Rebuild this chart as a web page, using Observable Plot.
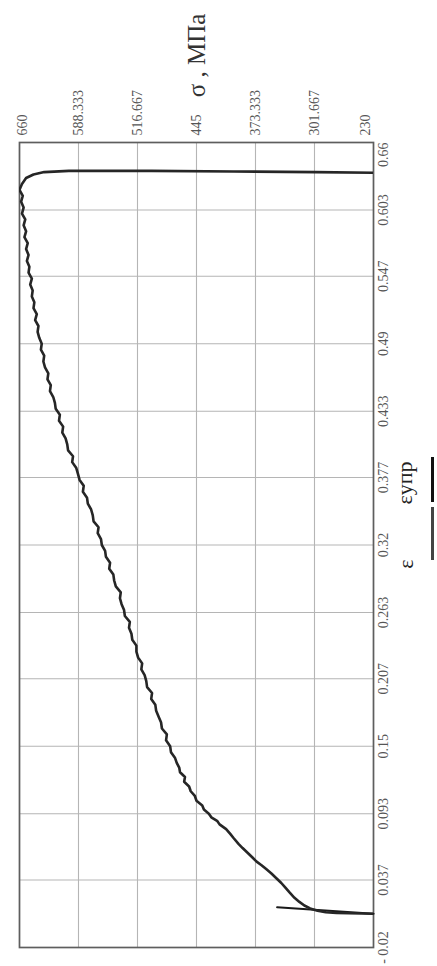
<!DOCTYPE html>
<html>
<head>
<meta charset="utf-8">
<script src="https://cdn.jsdelivr.net/npm/d3@7"></script>
<script src="https://cdn.jsdelivr.net/npm/@observablehq/plot@0.6"></script>
<style>
  body { margin: 0; background: #fff; }
  #wrap { position: relative; width: 437px; height: 966px; font-family: "Liberation Serif", "DejaVu Serif", serif; }
  .lg { position: absolute; transform: translate(-50%, -50%) rotate(-90deg); white-space: nowrap; color: #222; font-size: 22px; line-height: 1; }
  .bar { position: absolute; width: 3px; }
</style>
</head>
<body>
<div id="wrap"></div>
<script>
// Axis ticks
const sigmaTicks = [660, 588.333, 516.667, 445, 373.333, 301.667, 230];
const sigmaLabels = ["660", "588.333", "516.667", "445", "373.333", "301.667", "230"];
const epsTicks = [-0.02, 0.037, 0.093, 0.15, 0.207, 0.263, 0.32, 0.377, 0.433, 0.49, 0.547, 0.603, 0.66];
const epsLabels = ["- 0.02", "0.037", "0.093", "0.15", "0.207", "0.263", "0.32", "0.377", "0.433", "0.49", "0.547", "0.603", "0.66"];
const titleText = "σ , МПа";
const legendNames = ["ε", "εупр"];

// Main curve ε (strain) and σ (stress, MPa)
const curveEps = [
  0.0085, 0.0087, 0.0089, 0.0092, 0.0098, 0.0110, 0.0130, 0.0155, 0.0185, 0.0220,
  0.0265, 0.0305, 0.0345, 0.0385, 0.0425, 0.0460, 0.0495, 0.0525, 0.0560, 0.0600,
  0.0640, 0.0675, 0.0725, 0.0760, 0.0800, 0.0840, 0.0870, 0.0900, 0.0930, 0.0965,
  0.1000, 0.1040, 0.1080, 0.1120, 0.1160, 0.1200, 0.1240, 0.1280, 0.1320, 0.1360,
  0.1400, 0.1450, 0.1500, 0.1550, 0.1600, 0.1650, 0.1700, 0.1750, 0.1800, 0.1850,
  0.1900, 0.1950, 0.2000, 0.2050, 0.2100, 0.2150, 0.2200, 0.2250, 0.2300, 0.2350,
  0.2400, 0.2450, 0.2500, 0.2550, 0.2600, 0.2650, 0.2700, 0.2750, 0.2800, 0.2850,
  0.2900, 0.2950, 0.3000, 0.3050, 0.3100, 0.3150, 0.3200, 0.3250, 0.3300, 0.3350,
  0.3400, 0.3450, 0.3500, 0.3550, 0.3600, 0.3650, 0.3700, 0.3750, 0.3800, 0.3850,
  0.3900, 0.3950, 0.4000, 0.4050, 0.4100, 0.4150, 0.4200, 0.4250, 0.4300, 0.4350,
  0.4400, 0.4450, 0.4500, 0.4550, 0.4600, 0.4650, 0.4700, 0.4750, 0.4800, 0.4850,
  0.4900, 0.4950, 0.5000, 0.5050, 0.5100, 0.5150, 0.5200, 0.5250, 0.5300, 0.5350,
  0.5400, 0.5450, 0.5500, 0.5550, 0.5600, 0.5650, 0.5700, 0.5750, 0.5800, 0.5850,
  0.5900, 0.5950, 0.6000, 0.6050, 0.6100, 0.6150, 0.6200, 0.6250, 0.6300, 0.6330,
  0.6350, 0.6360, 0.6360, 0.6355, 0.6350, 0.6345
];
const curveSigma = [
  230, 245, 260, 275, 288, 298, 307, 314, 320, 326,
  332, 337, 342, 348, 354, 360, 366, 372, 377, 383,
  389, 394, 400, 404, 409, 417, 420, 427, 430, 436,
  438, 445, 447, 452, 454, 460, 459, 465, 466, 469,
  471, 476, 477, 482, 481, 487, 488, 491, 494, 495,
  500, 499, 505, 506, 508, 512, 511, 516, 518, 518,
  523, 524, 527, 526, 532, 533, 536, 538, 537, 543,
  545, 546, 551, 550, 555, 556, 560, 561, 565, 564,
  570, 571, 573, 577, 578, 583, 582, 587, 589, 591,
  596, 595, 601, 602, 604, 608, 607, 612, 611, 616,
  617, 619, 623, 622, 626, 625, 629, 631, 630, 634,
  633, 636, 638, 637, 641, 639, 643, 642, 645, 644,
  647, 645, 649, 648, 651, 649, 652, 650, 654, 652,
  655, 653, 657, 655, 658, 656, 660, 657, 652, 643,
  630, 600, 500, 400, 300, 230
];

// Elastic line (εупр)
const elasticEps = [0.0085, 0.0140];
const elasticSigma = [230, 347];

const curve = curveEps.map((e, i) => ({e, s: curveSigma[i]}));
const elastic = elasticEps.map((e, i) => ({e, s: elasticSigma[i]}));
const sig = sigmaTicks.map((v, i) => ({v, t: sigmaLabels[i]}));
const eps = epsTicks.map((v, i) => ({v, t: epsLabels[i]}));

const labelStyle = {fontSize: 14, fill: "#555", rotate: -90};

const chart = Plot.plot({
  width: 437,
  height: 966,
  marginLeft: 19,
  marginRight: 64,
  marginTop: 142,
  marginBottom: 19,
  style: {fontFamily: "'Liberation Serif', 'DejaVu Serif', serif", background: "white", overflow: "visible"},
  x: {domain: [660, 230], axis: null},
  y: {domain: [-0.02, 0.66], axis: null},
  marks: [
    Plot.gridX(sigmaTicks, {stroke: "#b5b5b5", strokeOpacity: 1, strokeWidth: 1.1}),
    Plot.gridY(epsTicks, {stroke: "#b5b5b5", strokeOpacity: 1, strokeWidth: 1.1}),
    Plot.frame({stroke: "#5e5e5e", strokeWidth: 1.7}),
    Plot.line(elastic, {x: "s", y: "e", stroke: "#1a1a1a", strokeWidth: 2.2}),
    Plot.line(curve, {x: "s", y: "e", stroke: "#262626", strokeWidth: 2.6, strokeLinejoin: "round", clip: true}),
    // sigma tick labels (top)
    Plot.text(sig.slice(1, -1), {x: "v", text: "t", frameAnchor: "top", dy: -7, textAnchor: "start", lineAnchor: "middle", ...labelStyle}),
    Plot.text(sig.slice(0, 1), {x: "v", text: "t", frameAnchor: "top", dy: -7, dx: 3, textAnchor: "start", lineAnchor: "middle", ...labelStyle}),
    Plot.text(sig.slice(-1), {x: "v", text: "t", frameAnchor: "top", dy: -7, dx: -8, textAnchor: "start", lineAnchor: "middle", ...labelStyle}),
    // epsilon tick labels (right)
    Plot.text(eps.slice(0, -1), {y: "v", text: "t", frameAnchor: "right", dx: 10, textAnchor: "middle", lineAnchor: "middle", ...labelStyle}),
    Plot.text(eps.slice(-1), {y: "v", text: "t", frameAnchor: "right", dx: 10, textAnchor: "end", lineAnchor: "middle", ...labelStyle}),
    // title
    Plot.text([titleText], {text: d => d, frameAnchor: "top", dy: -87, rotate: -90, textAnchor: "middle", lineAnchor: "middle", fontSize: 25, fill: "#333"})
  ]
});

const wrap = document.getElementById("wrap");
wrap.appendChild(chart);

// Legend (rotated with the chart)
const legend = [
  {name: legendNames[1], cx: 405, cy: 483, barTop: 457, barH: 45, color: "#111"},
  {name: legendNames[0], cx: 406, cy: 564, barTop: 507, barH: 53, color: "#444"}
];
for (const l of legend) {
  const t = document.createElement("div");
  t.className = "lg";
  t.textContent = l.name;
  t.style.left = l.cx + "px";
  t.style.top = l.cy + "px";
  wrap.appendChild(t);
  const b = document.createElement("div");
  b.className = "bar";
  b.style.left = "431px";
  b.style.top = l.barTop + "px";
  b.style.height = l.barH + "px";
  b.style.background = l.color;
  wrap.appendChild(b);
}
</script>
</body>
</html>
